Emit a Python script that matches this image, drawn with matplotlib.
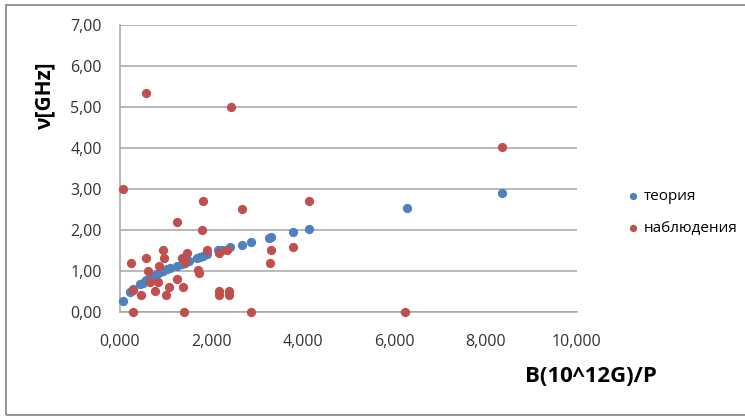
import matplotlib.pyplot as plt
from matplotlib.patches import Rectangle
from matplotlib.ticker import FuncFormatter

plt.rcParams['font.family'] = ['Open Sans', 'DejaVu Sans']

# теория
x_theory = [0.06, 0.22, 0.29, 0.44, 0.50, 0.58, 0.66, 0.73, 0.80, 0.88, 0.95,
            1.02, 1.10, 1.24, 1.35, 1.42, 1.50, 1.68, 1.75, 1.82, 1.90, 2.15,
            2.23, 2.41, 2.68, 2.86, 3.27, 3.30, 3.78, 4.13, 6.28, 8.36]
y_theory = [0.26, 0.47, 0.55, 0.68, 0.70, 0.78, 0.82, 0.87, 0.92, 0.96, 1.00,
            1.04, 1.06, 1.12, 1.17, 1.20, 1.24, 1.30, 1.33, 1.36, 1.40, 1.50,
            1.51, 1.57, 1.64, 1.69, 1.80, 1.82, 1.95, 2.03, 2.52, 2.91]

# наблюдения
x_obs = [0.06, 0.23, 0.28, 0.28, 0.45, 0.57, 0.57, 0.61, 0.66, 0.76, 0.83, 0.86,
         0.95, 0.96, 1.00, 1.07, 1.24, 1.24, 1.35, 1.39, 1.40, 1.42, 1.47, 1.70,
         1.72, 1.80, 1.81, 1.90, 2.17, 2.17, 2.17, 2.34, 2.39, 2.39, 2.42, 2.68,
         2.86, 3.28, 3.31, 3.78, 4.13, 6.25, 8.36]
y_obs = [3.00, 1.20, 0.53, 0.00, 0.40, 1.30, 5.33, 1.00, 0.73, 0.51, 0.73, 1.12,
         1.51, 1.30, 0.40, 0.61, 2.20, 0.81, 1.31, 0.61, 0.00, 1.22, 1.43, 1.02,
         0.95, 2.00, 2.71, 1.51, 1.43, 0.50, 0.40, 1.51, 0.51, 0.40, 5.01, 2.51,
         0.00, 1.20, 1.51, 1.59, 2.70, 0.00, 4.03]

fig = plt.figure(figsize=(7.45, 4.16), dpi=100)
# рамка области диаграммы (правый край за пределами картинки)
fig.patches.append(Rectangle((6 / 745, 1 / 416), 1.05, 410 / 416, transform=fig.transFigure,
                             fill=False, edgecolor='#8c8c8c', linewidth=1.3))

ax = fig.add_axes([120 / 745, 1 - 311.7 / 416, 456.7 / 745, 286.7 / 416])
ax.scatter(x_theory, y_theory, s=32, color='#4F81BD', label='теория', zorder=3, clip_on=False)
ax.scatter(x_obs, y_obs, s=32, color='#C0504D', label='наблюдения', zorder=3, clip_on=False)

ax.set_xlim(0, 10)
ax.set_ylim(0, 7)
ax.set_xticks(range(0, 11, 2))
ax.set_yticks(range(0, 8))
ax.xaxis.set_major_formatter(FuncFormatter(lambda v, p: f"{v:.3f}".replace('.', ',')))
ax.yaxis.set_major_formatter(FuncFormatter(lambda v, p: f"{v:.2f}".replace('.', ',')))
ax.tick_params(length=0, labelsize=11.5, colors='#333333')
ax.tick_params(axis='y', pad=13)
ax.tick_params(axis='x', pad=16)
ax.grid(axis='y', color='#a6a6a6', linewidth=1.1)
ax.set_axisbelow(True)
for side in ['top', 'right']:
    ax.spines[side].set_visible(False)
for side in ['left', 'bottom']:
    ax.spines[side].set_color('#a6a6a6')
    ax.spines[side].set_linewidth(1.1)

fig.text(45 / 745, 1 - 95 / 416, 'ν[GHz]', rotation=90, fontsize=15, fontweight='bold',
         ha='center', va='center')
fig.text(591 / 745, 1 - 377 / 416, 'B(10^12G)/P', fontsize=16, fontweight='bold',
         ha='center', va='center')

ax.legend(loc='upper left', bbox_to_anchor=(610 / 745, 1 - 175 / 416),
          bbox_transform=fig.transFigure, frameon=False, fontsize=11,
          handletextpad=0.1, labelspacing=1.1, markerscale=0.75, handlelength=1.2)

fig.savefig('out.png', dpi=100)
